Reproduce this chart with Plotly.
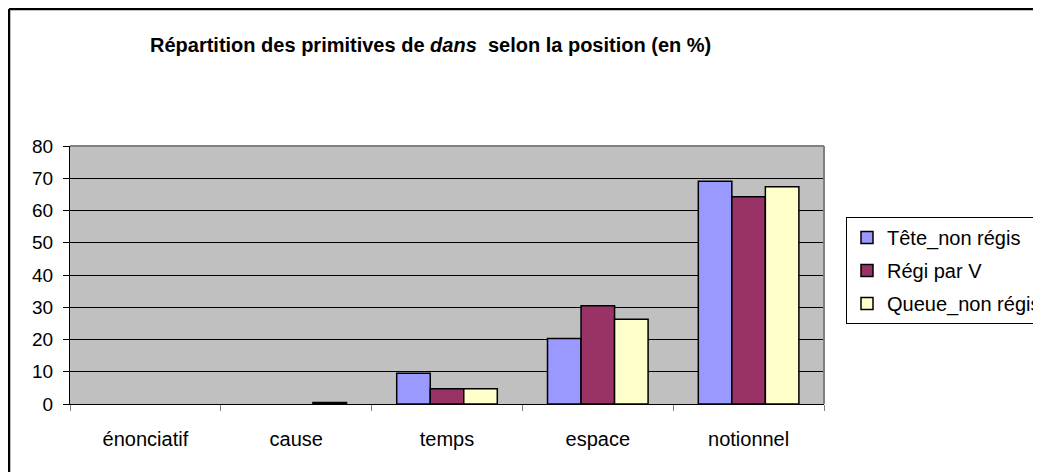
import plotly.graph_objects as go

categories = ["énonciatif", "cause", "temps", "espace", "notionnel"]
tete_non_regis = [0, 0, 9.5, 20.3, 69.1]
regi_par_v = [0, 0, 4.7, 30.5, 64.3]
queue_non_regis = [0, 0.5, 4.7, 26.3, 67.4]
series_names = ["Tête_non régis", "Régi par V", "Queue_non régis"]
series_colors = ["#9999FF", "#993366", "#FFFFCC"]
y_ticks = [0, 10, 20, 30, 40, 50, 60, 70, 80]

FONT = "Liberation Sans, Arial, sans-serif"

fig = go.Figure()
for i, (name, vals, col) in enumerate(zip(series_names, [tete_non_regis, regi_par_v, queue_non_regis], series_colors)):
    fig.add_trace(go.Bar(
        x=categories,
        y=[v if v != 0 else None for v in vals],  # zero bars are not drawn (no outline)
        name=name, legendgroup=f"g{i}",
        marker=dict(color=col, line=dict(color="black", width=1.5)),
    ))

OFF = 8  # page body margin
W, H = 1041 - OFF, 472 - OFF
L, R, T, B = 70 - OFF, 824 - OFF, 146 - OFF, 404 - OFF
pw = R - L
ph = B - T

def px(x):
    return (x - OFF - L) / pw

def py(y):
    return (B - (y - OFF)) / ph

fig.update_layout(
    width=W, height=H,
    margin=dict(l=L, r=W - R, t=T, b=H - B, autoexpand=False),
    paper_bgcolor="white",
    plot_bgcolor="#C0C0C0",
    font=dict(family=FONT, size=19, color="black"),
    barmode="group",
    bargap=0.333,
    bargroupgap=0,
    showlegend=True,
    legend=dict(
        x=px(846), xanchor="left",
        y=py(217), yanchor="top",
        bgcolor="white", bordercolor="black", borderwidth=1,
        font=dict(family=FONT, size=20),
        traceorder="grouped", tracegroupgap=4, itemwidth=30,
    ),
    xaxis=dict(
        type="category", showgrid=False, showline=True, linecolor="black", linewidth=1,
        ticks="outside", tickson="boundaries", ticklen=6, tickcolor="#808080", tickwidth=1,
        ticklabelstandoff=17, zeroline=False,
        tickfont=dict(size=20),
    ),
    yaxis=dict(
        range=[0, 80], tickvals=y_ticks, showgrid=True, gridcolor="black", gridwidth=1,
        showline=True, linecolor="black", linewidth=1,
        ticks="outside", ticklen=6, tickcolor="black", ticklabelstandoff=6,
        zeroline=False,
    ),
    annotations=[dict(
        text="<b>Répartition des primitives de <i>dans</i>  selon la position (en %)</b>",
        xref="paper", yref="paper", x=px(430), y=py(45),
        xanchor="center", yanchor="middle", showarrow=False,
        font=dict(family=FONT, size=20, color="black"),
    )],
    shapes=[
        dict(type="line", xref="paper", yref="paper", x0=0, x1=1, y0=1, y1=1,
             line=dict(color="#808080", width=2), layer="above"),
        dict(type="line", xref="paper", yref="paper", x0=1, x1=1, y0=0, y1=1,
             line=dict(color="#808080", width=2), layer="above"),
        dict(type="line", xref="paper", yref="paper", x0=px(9), x1=px(1060),
             y0=py(9), y1=py(9), line=dict(color="black", width=2.5)),
        dict(type="line", xref="paper", yref="paper", x0=px(9), x1=px(9),
             y0=py(9), y1=py(500), line=dict(color="black", width=2.5)),
    ],
)

fig.write_html("out.html")
